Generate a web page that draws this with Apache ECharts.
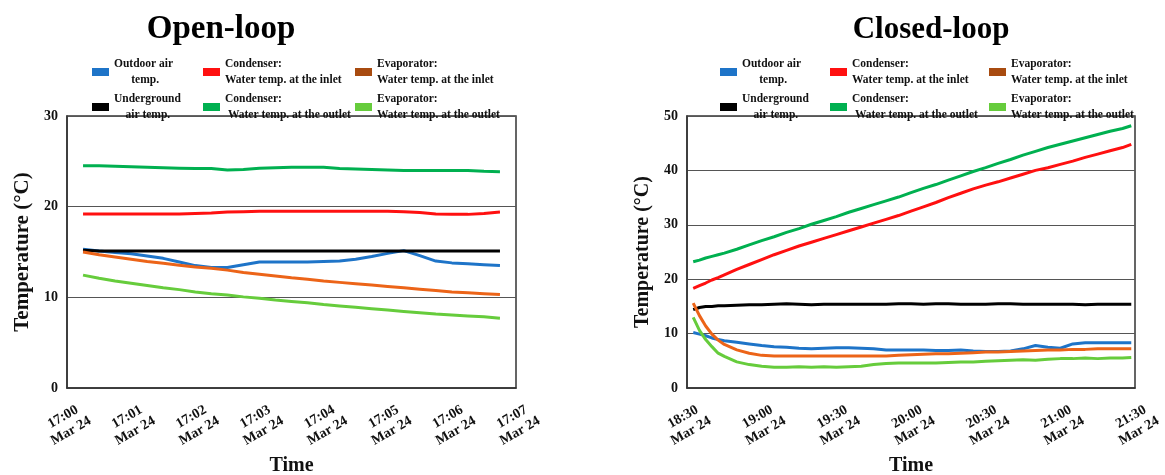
<!DOCTYPE html>
<html>
<head>
<meta charset="utf-8">
<title>Open-loop / Closed-loop temperatures</title>
<script src="https://cdn.jsdelivr.net/npm/echarts@6/dist/echarts.min.js"></script>
<style>
  html, body { margin: 0; padding: 0; background: #fff; }
  #main { width: 1165px; height: 475px; }
</style>
</head>
<body>
<div id="main"></div>
<script>
// open-loop run, minutes after 17:00
const openMinutes = [0.25, 0.5, 0.75, 1, 1.25, 1.5, 1.75, 2, 2.25, 2.5, 2.75, 3, 3.25, 3.5,
  3.75, 4, 4.25, 4.5, 4.75, 5, 5.25, 5.5, 5.75, 6, 6.25, 6.5, 6.75]
const openOutdoor = [15.3, 15.1, 14.95, 14.8, 14.55, 14.3, 13.9, 13.5, 13.3, 13.3, 13.6, 13.9, 13.9, 13.9,
  13.9, 13.95, 14.0, 14.2, 14.5, 14.85, 15.15, 14.6, 14.0, 13.8, 13.7, 13.6, 13.5]
const openUnderground = [15.2, 15.1, 15.1, 15.1, 15.1, 15.1, 15.1, 15.1, 15.1, 15.1, 15.1, 15.1, 15.1, 15.1,
  15.1, 15.1, 15.1, 15.1, 15.1, 15.1, 15.1, 15.1, 15.1, 15.1, 15.1, 15.1, 15.1]
const openCondIn = [19.2, 19.2, 19.2, 19.2, 19.2, 19.2, 19.2, 19.25, 19.3, 19.4, 19.45, 19.5, 19.5, 19.5,
  19.5, 19.5, 19.5, 19.5, 19.5, 19.5, 19.45, 19.35, 19.2, 19.15, 19.15, 19.25, 19.4]
const openCondOut = [24.5, 24.5, 24.45, 24.4, 24.35, 24.3, 24.25, 24.2, 24.2, 24.05, 24.1, 24.25, 24.3, 24.35,
  24.35, 24.35, 24.2, 24.15, 24.1, 24.05, 24.0, 24.0, 24.0, 24.0, 24.0, 23.9, 23.85]
const openEvapIn = [15.0, 14.7, 14.45, 14.2, 13.95, 13.75, 13.55, 13.35, 13.2, 13.0, 12.75, 12.55, 12.35, 12.15,
  12.0, 11.8, 11.65, 11.5, 11.35, 11.2, 11.05, 10.9, 10.75, 10.6, 10.5, 10.4, 10.3]
const openEvapOut = [12.45, 12.1, 11.8, 11.55, 11.3, 11.05, 10.85, 10.6, 10.4, 10.25, 10.05, 9.9, 9.7, 9.55,
  9.4, 9.2, 9.05, 8.9, 8.75, 8.6, 8.45, 8.3, 8.15, 8.05, 7.95, 7.85, 7.7]
const openTicks = ['17:00', '17:01', '17:02', '17:03', '17:04', '17:05', '17:06', '17:07']

// closed-loop run, minutes after 18:30
const closedMinutes = [2.5, 5, 7.5, 10, 12.5, 15, 20, 25, 30, 35, 40, 45, 50, 55, 60, 65, 70, 75, 80,
  85, 90, 95, 100, 105, 110, 115, 120, 125, 130, 135, 140, 145, 150, 155, 160, 165, 170, 175, 178.5]
const closedOutdoor = [10.2, 9.9, 9.6, 9.2, 8.9, 8.7, 8.4, 8.1, 7.8, 7.6, 7.5, 7.3, 7.2, 7.3, 7.4, 7.4, 7.3, 7.2, 7.0,
  7.0, 7.0, 7.0, 6.9, 6.9, 7.0, 6.8, 6.7, 6.7, 6.8, 7.2, 7.8, 7.5, 7.3, 8.1, 8.3, 8.3, 8.3, 8.3, 8.3]
const closedUnderground = [14.4, 14.8, 15.0, 15.0, 15.1, 15.1, 15.2, 15.3, 15.3, 15.4, 15.5, 15.4, 15.3, 15.4, 15.4, 15.4, 15.4, 15.4, 15.4,
  15.5, 15.5, 15.4, 15.5, 15.5, 15.4, 15.4, 15.4, 15.5, 15.5, 15.4, 15.4, 15.4, 15.4, 15.4, 15.3, 15.4, 15.4, 15.4, 15.4]
const closedCondIn = [18.3, 18.8, 19.3, 19.85, 20.3, 20.8, 21.8, 22.7, 23.6, 24.5, 25.3, 26.1, 26.8, 27.5, 28.2, 28.9, 29.6, 30.3, 31.0,
  31.7, 32.5, 33.3, 34.1, 35.0, 35.8, 36.6, 37.3, 37.9, 38.6, 39.3, 40.0, 40.5, 41.1, 41.7, 42.4, 43.0, 43.6, 44.2, 44.8]
const closedCondOut = [23.2, 23.5, 23.9, 24.2, 24.5, 24.8, 25.5, 26.3, 27.1, 27.8, 28.6, 29.3, 30.1, 30.8, 31.5, 32.3, 33.0, 33.7, 34.4,
  35.1, 35.9, 36.7, 37.4, 38.2, 39.0, 39.8, 40.5, 41.3, 42.0, 42.8, 43.5, 44.2, 44.8, 45.4, 46.0, 46.6, 47.2, 47.7, 48.2]
const closedEvapIn = [15.6, 13.3, 11.4, 9.9, 8.8, 8.0, 7.0, 6.4, 6.0, 5.9, 5.9, 5.9, 5.9, 5.9, 5.9, 5.9, 5.9, 5.9, 5.9,
  6.0, 6.1, 6.2, 6.3, 6.3, 6.4, 6.5, 6.6, 6.6, 6.7, 6.8, 6.9, 7.0, 7.0, 7.1, 7.1, 7.2, 7.2, 7.2, 7.2]
const closedEvapOut = [13.0, 10.6, 8.9, 7.6, 6.4, 5.8, 4.8, 4.3, 4.0, 3.8, 3.8, 3.9, 3.8, 3.9, 3.8, 3.9, 4.0, 4.3, 4.5,
  4.6, 4.6, 4.6, 4.6, 4.7, 4.8, 4.8, 4.9, 5.0, 5.1, 5.2, 5.1, 5.3, 5.4, 5.4, 5.5, 5.4, 5.5, 5.5, 5.6]
const closedTicks = ['18:30', '19:00', '19:30', '20:00', '20:30', '21:00', '21:30']

const names = ['Outdoor air temp.', 'Underground air temp.', 'Condenser inlet',
  'Condenser outlet', 'Evaporator inlet', 'Evaporator outlet']
const lineColors = ['#1e74c8', '#000000', '#ff1010', '#00b050', '#ec6418', '#66cc3c']
const iconColors = ['#1e74c8', '#000000', '#ff1010', '#00b050', '#a84b10', '#66cc3c']
const legendText = {
  'Outdoor air temp.': 'Outdoor air\n      temp.',
  'Underground air temp.': 'Underground\n    air temp.',
  'Condenser inlet': 'Condenser:\nWater temp. at the inlet',
  'Condenser outlet': 'Condenser:\n Water temp. at the outlet',
  'Evaporator inlet': 'Evaporator:\nWater temp. at the inlet',
  'Evaporator outlet': 'Evaporator:\nWater temp. at the outlet'
}

const serif = 'Liberation Serif'
const boldText = { fontFamily: serif, fontWeight: 'bold', color: '#111' }

function buildSeries(idx, xs, groups) {
  return groups.map(function (vals, i) {
    return {
      name: names[i],
      type: 'line',
      xAxisIndex: idx,
      yAxisIndex: idx,
      symbol: 'none',
      lineStyle: { width: 3, color: lineColors[i] },
      itemStyle: { color: lineColors[i] },
      data: xs.map(function (t, k) { return [t, vals[k]] })
    }
  })
}

function legendCol(left, pair) {
  return {
    orient: 'vertical',
    left: left,
    top: 51,
    icon: 'rect',
    itemWidth: 17,
    itemHeight: 8,
    itemGap: 3,
    selectedMode: false,
    textStyle: Object.assign({ fontSize: 11.5, lineHeight: 16 }, boldText),
    formatter: function (n) { return legendText[n] },
    data: pair.map(function (i) { return { name: names[i], itemStyle: { color: iconColors[i] } } })
  }
}

function yAxis(idx, max, nameSize) {
  return {
    type: 'value',
    gridIndex: idx,
    min: 0,
    max: max,
    interval: 10,
    name: 'Temperature (°C)',
    nameLocation: 'middle',
    nameGap: 34,
    nameTextStyle: Object.assign({ fontSize: nameSize }, boldText),
    axisLine: { show: true, lineStyle: { color: '#333', width: 1.5 } },
    axisTick: { show: false },
    axisLabel: Object.assign({ fontSize: 14, margin: 9 }, boldText),
    splitLine: { show: true, lineStyle: { color: '#555', width: 1.2 } }
  }
}

function xAxis(idx, max, step, ticks) {
  return {
    type: 'value',
    gridIndex: idx,
    min: 0,
    max: max,
    interval: step,
    name: 'Time',
    nameLocation: 'middle',
    nameGap: 68,
    nameTextStyle: Object.assign({ fontSize: 20 }, boldText),
    axisLine: { show: true, lineStyle: { color: '#333', width: 1.5 } },
    axisTick: { show: false },
    splitLine: { show: false },
    axisLabel: Object.assign({
      fontSize: 14,
      lineHeight: 16,
      rotate: 30,
      align: 'center',
      verticalAlign: 'middle',
      margin: 36,
      formatter: function (v) { return ticks[Math.round(v / step)] + '\nMar 24' }
    }, boldText)
  }
}

var myChart = echarts.init(document.getElementById('main'), null, { renderer: 'canvas' })

const option = {
  backgroundColor: '#fff',
  animation: false,
  title: [
    { text: 'Open-loop', left: 216, top: 8, textAlign: 'center',
      textStyle: Object.assign({ fontSize: 33 }, boldText, { color: '#000' }) },
    { text: 'Closed-loop', left: 926, top: 9, textAlign: 'center',
      textStyle: Object.assign({ fontSize: 31 }, boldText, { color: '#000' }) }
  ],
  legend: [
    legendCol(87, [0, 1]), legendCol(198, [2, 3]), legendCol(350, [4, 5]),
    legendCol(715, [0, 1]), legendCol(825, [2, 3]), legendCol(984, [4, 5])
  ],
  grid: [
    { left: 67, top: 116, width: 449, height: 272, show: true, borderColor: '#333', borderWidth: 1.5,
      outerBoundsMode: 'none' },
    { left: 687, top: 116, width: 448, height: 272, show: true, borderColor: '#333', borderWidth: 1.5,
      outerBoundsMode: 'none' }
  ],
  xAxis: [
    xAxis(0, 7, 1, openTicks),
    xAxis(1, 180, 30, closedTicks)
  ],
  yAxis: [yAxis(0, 30, 21), yAxis(1, 50, 20)],
  series: buildSeries(0, openMinutes,
    [openOutdoor, openUnderground, openCondIn, openCondOut, openEvapIn, openEvapOut])
    .concat(buildSeries(1, closedMinutes,
      [closedOutdoor, closedUnderground, closedCondIn, closedCondOut, closedEvapIn, closedEvapOut]))
}

myChart.setOption(option)
</script>
</body>
</html>
